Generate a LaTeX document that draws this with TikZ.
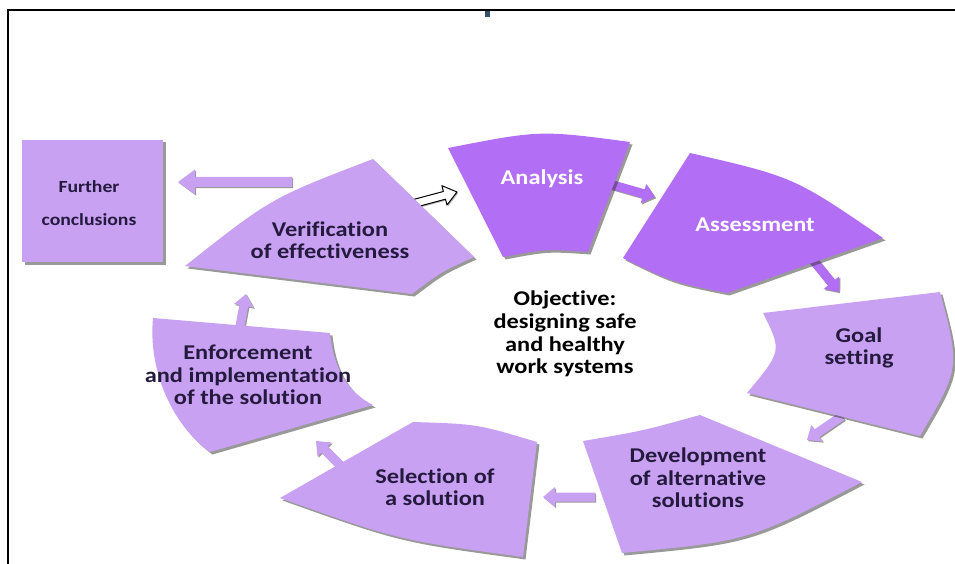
\documentclass[tikz,border=0pt]{standalone}
\usepackage{fontspec}
\setmainfont{Carlito}
\newfontfamily\lblfont[FakeStretch=1.16,Ligatures=NoCommon]{Carlito}
\usetikzlibrary{calc,shadows}
\definecolor{seglight}{HTML}{C9A1F3}
\definecolor{segdark}{HTML}{B26EF5}
\definecolor{txtdark}{HTML}{241A3E}
\definecolor{marknavy}{HTML}{34506E}
\newcommand\blockarrow[6]{%
  \coordinate (#3h) at ($(#3)!#6!(#2)$);
  \path[#1] ($(#2)!#4!90:(#3)$) -- ($(#3h)!#4!90:(#3)$) -- ($(#3h)!#5!90:(#3)$) -- (#3)
    -- ($(#3h)!#5!-90:(#3)$) -- ($(#3h)!#4!-90:(#3)$) -- ($(#2)!#4!-90:(#3)$) -- cycle;}
\tikzset{
  shapeshadow/.style={drop shadow={shadow xshift=2.5pt,shadow yshift=-2.5pt,opacity=0.5,fill=black!80}},
  lightseg/.style={fill=seglight,shapeshadow},
  darkseg/.style={fill=segdark,shapeshadow},
  arrowlight/.style={fill=seglight,drop shadow={shadow xshift=1.2pt,shadow yshift=-1.2pt,opacity=0.4,fill=black}},
  arrowdark/.style={fill=segdark,drop shadow={shadow xshift=1.2pt,shadow yshift=-1.2pt,opacity=0.4,fill=black}},
  arrowhollow/.style={fill=white,draw=black,line width=1pt,line join=round,
    drop shadow={shadow xshift=1.2pt,shadow yshift=-1.2pt,opacity=0.3,fill=black}},
  lbl/.style={text=txtdark,font=\lblfont\bfseries\fontsize{21}{22.5}\selectfont,align=center,inner sep=0pt},
  smalllbl/.style={text=txtdark,font=\lblfont\bfseries\fontsize{17}{33}\selectfont,align=center,inner sep=0pt},
  wlbl/.style={text=white,font=\lblfont\bfseries\fontsize{21}{24}\selectfont,inner sep=0pt},
  objlbl/.style={text=black,font=\lblfont\bfseries\fontsize{21}{22.7}\selectfont,align=center,inner sep=0pt},
  framestroke/.style={line width=2.5pt,black}
}
\begin{document}
\begin{tikzpicture}[x=1pt,y=-1pt]
\useasboundingbox (0,0) rectangle (955,564);
% frame
\draw[framestroke] (8,564) -- (8,10) -- (955,10);
\fill[marknavy] (485,11) rectangle (490,17);

% arrow end points
\coordinate (a1s) at (292,182); \coordinate (a1t) at (178,182);
\coordinate (a2s) at (412,204); \coordinate (a2t) at (457,192);
\coordinate (a3s) at (606,183); \coordinate (a3t) at (655,197);
\coordinate (a4s) at (813,260); \coordinate (a4t) at (839,292);
\coordinate (a5s) at (842,416); \coordinate (a5t) at (807,440);
\coordinate (a6s) at (595,497); \coordinate (a6t) at (543,497);
\coordinate (a7s) at (342,467); \coordinate (a7t) at (316,441);
\coordinate (a8s) at (240,326); \coordinate (a8t) at (246,294);

\blockarrow{arrowlight}{a1s}{a1t}{5pt}{12.5pt}{17pt}
\blockarrow{arrowhollow}{a2s}{a2t}{4pt}{10pt}{13pt}
\blockarrow{arrowdark}{a3s}{a3t}{4.5pt}{10pt}{12pt}
\blockarrow{arrowdark}{a4s}{a4t}{4.5pt}{10pt}{12pt}
\blockarrow{arrowlight}{a5s}{a5t}{4.5pt}{10pt}{12pt}
\blockarrow{arrowlight}{a6s}{a6t}{4.5pt}{10pt}{12pt}
\blockarrow{arrowlight}{a7s}{a7t}{4.5pt}{10pt}{12pt}
\blockarrow{arrowlight}{a8s}{a8t}{4.5pt}{10pt}{12pt}

% Further conclusions box
\path[lightseg] (22,140) rectangle (163,262);
% Verification
\path[lightseg] (185,266) .. controls (271,198) .. (373,159) -- (474,257)
  .. controls (441,272) .. (412,294) -- cycle;
% Analysis
\path[darkseg] (448,148) .. controls (540,130) .. (630,142) -- (588,252)
  .. controls (545,249) .. (503,257) -- cycle;
% Assessment
\path[darkseg] (623,258) -- (690,153) .. controls (794,177) .. (883,238) -- (727,293)
  .. controls (672,282) .. cycle;
% Goal setting
\path[lightseg] (763,313) -- (940,292) .. controls (960,368) .. (920,436) -- (747,393)
  .. controls (782,351) .. cycle;
% Development
\path[lightseg] (583,441) .. controls (642,431) .. (700,415) -- (862,482)
  .. controls (749,541) .. (622,553) -- cycle;
% Selection
\path[lightseg] (280,498) -- (413,422) .. controls (477,424) .. (537,442) -- (523,557)
  .. controls (398,540) .. cycle;
% Enforcement
\path[lightseg] (153,318) -- (330,333) .. controls (333,362) and (343,390) .. (373,405)
  -- (210,452) .. controls (172,425) and (148,370) .. cycle;

% labels
\node[smalllbl] (further) at (89,203) {Further\\conclusions};
\node[lbl] (verif) at (330,240) {Verification\\of effectiveness};
\node[wlbl] (analysis) at (542,179) {Analysis};
\node[wlbl] (assess) at (755,225) {Assessment};
\node[lbl] (goal) at (859,348) {Goal\\setting};
\node[lbl] (devel) at (698,478) {Development\\of alternative\\solutions};
\node[lbl] (select) at (435,487) {Selection of\\a solution};
\node[lbl] (enforce) at (248,375) {Enforcement\\and implementation\\of the solution};
\node[objlbl] (obj) at (565,334) {Objective:\\designing safe\\and healthy\\work systems};
\end{tikzpicture}
\end{document}
